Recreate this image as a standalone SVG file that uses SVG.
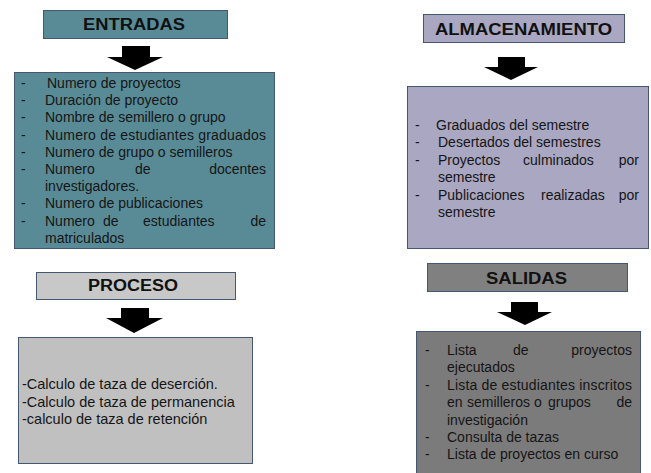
<svg xmlns="http://www.w3.org/2000/svg" width="651" height="473" viewBox="0 0 651 473">
<style>
.hd{font-family:"Liberation Sans",Arial,sans-serif;font-weight:bold;font-size:16px;fill:#111;text-anchor:middle}
.tx{font-family:"Liberation Sans",Arial,sans-serif;font-size:14px;fill:#151515}
.e{text-anchor:end}
.bx{stroke:#44586f;stroke-width:1}
.arr{fill:#000}
</style>
<rect width="651" height="473" fill="#fff"/>
<g id="connectors">
<polygon class="arr" points="122,46 150,46 150,57 163,57 135,70 107,57 122,57"/>
<polygon class="arr" points="498,57 525,57 525,67 538,67 511,80 484,67 498,67"/>
<polygon class="arr" points="121,308 149,308 149,318 163,318 134,333 106,318 121,318"/>
<polygon class="arr" points="511,302 538,302 538,312 552,312 525,325 497,312 511,312"/>
</g>
<g id="entradas-header">
<rect class="bx" x="43.5" y="10.5" width="184" height="28" fill="#598b97"/>
<text class="hd" x="134" y="30" textLength="102" lengthAdjust="spacingAndGlyphs">ENTRADAS</text>
</g>
<g id="entradas-box">
<rect class="bx" x="14.5" y="72.5" width="260" height="176" fill="#598b97"/>
<g class="tx">
<text x="21" y="88">-</text><text x="47" y="88">Numero de proyectos</text>
<text x="21" y="105.2">-</text><text x="45" y="105.2">Duración de proyecto</text>
<text x="21" y="122.4">-</text><text x="45" y="122.4">Nombre de semillero o grupo</text>
<text x="21" y="139.6">-</text><text x="45" y="139.6" textLength="221" lengthAdjust="spacing">Numero de estudiantes graduados</text>
<text x="21" y="156.8">-</text><text x="45" y="156.8">Numero de grupo o semilleros</text>
<text x="21" y="174">-</text><text x="45" y="174">Numero</text><text x="135" y="174">de</text><text class="e" x="266" y="174">docentes</text>
<text x="45" y="191.2">investigadores.</text>
<text x="21" y="208.4">-</text><text x="45" y="208.4">Numero de publicaciones</text>
<text x="21" y="225.6">-</text><text x="45" y="225.6">Numero</text><text x="103" y="225.6">de</text><text x="143" y="225.6">estudiantes</text><text class="e" x="266" y="225.6">de</text>
<text x="45" y="242.8">matriculados</text>
</g>
</g>
<g id="almacenamiento-header">
<rect class="bx" x="423.5" y="14.5" width="201" height="28" fill="#a9a7c1"/>
<text class="hd" x="523.5" y="34.5" textLength="177" lengthAdjust="spacingAndGlyphs">ALMACENAMIENTO</text>
</g>
<g id="almacenamiento-box">
<rect class="bx" x="407.5" y="86.5" width="241" height="162" fill="#a9a7c1"/>
<g class="tx">
<text x="415" y="130">-</text><text x="436" y="130">Graduados del semestre</text>
<text x="415" y="147.4">-</text><text x="438" y="147.4">Desertados del semestres</text>
<text x="415" y="164.8">-</text><text x="438" y="164.8">Proyectos</text><text x="523" y="164.8">culminados</text><text class="e" x="639" y="164.8">por</text>
<text x="438" y="182.2">semestre</text>
<text x="415" y="199.6">-</text><text x="438" y="199.6">Publicaciones</text><text x="541" y="199.6">realizadas</text><text class="e" x="639" y="199.6">por</text>
<text x="438" y="217">semestre</text>
</g>
</g>
<g id="proceso-header">
<rect class="bx" x="36.5" y="272.5" width="199" height="27" fill="#c8c8c8"/>
<text class="hd" x="133" y="291" textLength="90" lengthAdjust="spacingAndGlyphs">PROCESO</text>
</g>
<g id="proceso-box">
<rect class="bx" x="18.5" y="337.5" width="234" height="126" fill="#c0c0c0"/>
<g class="tx" style="font-size:14.5px">
<text x="22" y="389">-Calculo de taza de deserción.</text>
<text x="22" y="406.5">-Calculo de taza de permanencia</text>
<text x="22" y="424">-calculo de taza de retención</text>
</g>
</g>
<g id="salidas-header">
<rect class="bx" x="427.5" y="263.5" width="200" height="28" fill="#808080"/>
<text class="hd" x="526.5" y="283.5" textLength="81" lengthAdjust="spacingAndGlyphs">SALIDAS</text>
</g>
<g id="salidas-box">
<rect class="bx" x="416.5" y="331.5" width="224" height="150" fill="#7b7b7b"/>
<g class="tx">
<text x="425" y="355">-</text><text x="447" y="355">Lista</text><text x="513" y="355">de</text><text class="e" x="632" y="355">proyectos</text>
<text x="447" y="372.4">ejecutados</text>
<text x="425" y="389.8">-</text><text x="447" y="389.8" textLength="185" lengthAdjust="spacing">Lista de estudiantes inscritos</text>
<text x="447" y="407.2">en</text><text x="467" y="407.2">semilleros</text><text x="534" y="407.2">o</text><text x="548" y="407.2">grupos</text><text class="e" x="632" y="407.2">de</text>
<text x="447" y="424.6">investigación</text>
<text x="425" y="442">-</text><text x="447" y="442">Consulta de tazas</text>
<text x="425" y="459.4">-</text><text x="447" y="459.4">Lista de proyectos en curso</text>
</g>
</g>
</svg>
